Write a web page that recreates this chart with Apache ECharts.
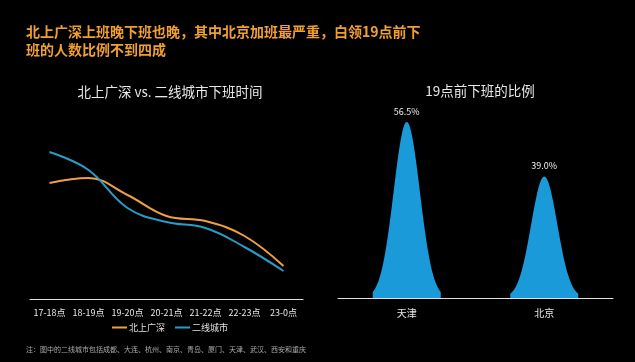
<!DOCTYPE html>
<html><head><meta charset="utf-8">
<script src="https://cdn.jsdelivr.net/npm/echarts@6/dist/echarts.min.js"></script>
<style>html,body{margin:0;padding:0;background:#000;}#c{width:635px;height:362px;}</style>
</head><body><div id="c"></div>
<script>
const timeSlots = ['17-18点','18-19点','19-20点','20-21点','21-22点','22-23点','23-0点'];
const tier1 = [116, 121, 104, 83, 78, 63, 33];
const tier2 = [147, 129, 91, 77, 71, 52, 28];
const seriesNames = ['北上广深','二线城市'];
const cities = ['天津','北京'];
const earlyShare = [56.5, 39.0];

// gaussian bell symbol shape
function bellPath(){
  let p = 'path://M0,100';
  for (let i = 0; i <= 60; i++) {
    const x = i/60*100;
    const t = (i/60 - 0.5) * 5.2;
    const y = 100 - 100*Math.exp(-t*t/2);
    p += ' L' + x.toFixed(2) + ',' + y.toFixed(2);
  }
  return p + ' L100,100 Z';
}
const font = '"Noto Sans CJK SC", "Noto Sans", sans-serif';
const chart = echarts.init(document.getElementById('c'));
chart.setOption({
  backgroundColor: '#000',
  textStyle: {fontFamily: font},
  title: [
    {text: '北上广深上班晚下班也晚，其中北京加班最严重，白领19点前下\n班的人数比例不到四成', left: 21, top: 18,
     textStyle: {color: '#F0A030', fontSize: 14, fontWeight: 'bold', lineHeight: 18, fontFamily: font}},
    {text: '北上广深 vs. 二线城市下班时间', left: 165, top: 80, textAlign: 'center',
     textStyle: {color: '#e8e8e8', fontSize: 13.5, fontWeight: 'normal', fontFamily: font}},
    {text: '19点前下班的比例', left: 475, top: 79, textAlign: 'center',
     textStyle: {color: '#e8e8e8', fontSize: 13.5, fontWeight: 'normal', fontFamily: font}},
    {text: '注：图中的二线城市包括成都、大连、杭州、南京、青岛、厦门、天津、武汉、西安和重庆', left: 21, top: 341,
     textStyle: {color: '#aaaaaa', fontSize: 7, fontWeight: 'normal', fontFamily: font}}
  ],
  legend: {
    data: seriesNames, left: 107, top: 318, itemWidth: 15, itemHeight: 2, itemGap: 10,
    icon: 'rect',
    textStyle: {color: '#e0e0e0', fontSize: 9, padding: [0,0,0,-3]}
  },
  grid: [
    {left: 30, width: 273, top: 99, height: 200},
    {left: 338, width: 275, top: 111, height: 187}
  ],
  xAxis: [
    {type: 'category', gridIndex: 0, data: timeSlots, boundaryGap: true,
     axisLine: {lineStyle: {color: '#e0e0e0', width: 1}}, axisTick: {show: false},
     axisLabel: {color: '#e8e8e8', fontSize: 9, margin: 9, interval: 0}},
    {type: 'category', gridIndex: 1, data: cities, boundaryGap: true,
     axisLine: {lineStyle: {color: '#e0e0e0', width: 1}}, axisTick: {show: false},
     axisLabel: {color: '#e8e8e8', fontSize: 10, margin: 10}}
  ],
  yAxis: [
    {type: 'value', gridIndex: 0, min: 0, max: 200, show: false},
    {type: 'value', gridIndex: 1, min: 0, max: 60, show: false}
  ],
  series: [
    {name: seriesNames[0], type: 'line', xAxisIndex: 0, yAxisIndex: 0, data: tier1, smooth: 0.4,
     symbol: 'none', lineStyle: {color: '#F0A040', width: 2}, itemStyle: {color: '#F0A040'}},
    {name: seriesNames[1], type: 'line', xAxisIndex: 0, yAxisIndex: 0, data: tier2, smooth: 0.4,
     symbol: 'none', lineStyle: {color: '#2A9BC8', width: 2}, itemStyle: {color: '#2A9BC8'}},
    {type: 'pictorialBar', xAxisIndex: 1, yAxisIndex: 1, data: earlyShare,
     symbol: bellPath(), symbolSize: [68, '100%'],
     itemStyle: {color: '#1A9AD8'},
     label: {show: true, position: 'top', distance: 6, color: '#f0f0f0', fontSize: 9,
             formatter: p => p.value.toFixed(1) + '%'}}
  ]
});
</script></body></html>
